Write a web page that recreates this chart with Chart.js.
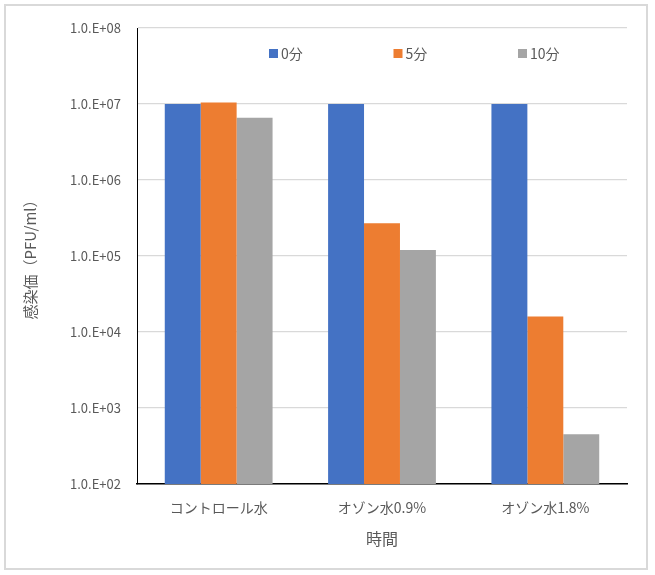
<!DOCTYPE html>
<html>
<head>
<meta charset="utf-8">
<script src="https://cdn.jsdelivr.net/npm/chart.js@4/dist/chart.umd.min.js"></script>
<style>
  html, body { margin: 0; padding: 0; background: #fff; }
  #wrap { position: relative; width: 655px; height: 575px; }
</style>
</head>
<body>
<div id="wrap"><canvas id="myChart" width="655" height="575"></canvas></div>
<script>
// data
var categories = ['コントロール水', 'オゾン水0.9%', 'オゾン水1.8%']
var seriesNames = ['0分', '5分', '10分']
var min0 = [1.0e7, 1.0e7, 1.0e7]
var min5 = [1.05e7, 2.7e5, 1.6e4]
var min10 = [6.6e6, 1.2e5, 450]
var tickValues = [1e2, 1e3, 1e4, 1e5, 1e6, 1e7, 1e8]
var tickLabels = ['1.0.E+02', '1.0.E+03', '1.0.E+04', '1.0.E+05', '1.0.E+06', '1.0.E+07', '1.0.E+08']

var colors = ['#4472C4', '#ED7D31', '#A5A5A5']
var textColor = '#595959'
var jpFont = '"Noto Sans CJK JP", "Noto Sans", sans-serif'

// white background + light grey frame round the whole chart
var framePlugin = {
    id: 'frame',
    beforeDraw: function (chart) {
        var ctx = chart.ctx
        ctx.save()
        ctx.fillStyle = '#fff'
        ctx.fillRect(0, 0, chart.width, chart.height)
        ctx.strokeStyle = '#D9D9D9'
        ctx.lineWidth = 2
        ctx.strokeRect(5, 5, 642, 564)
        ctx.restore()
    }
}

// legend sits inside the plot area like in the Excel chart
var legendPlugin = {
    id: 'insideLegend',
    afterDraw: function (chart) {
        var ctx = chart.ctx
        var x = 269, y = 53, step = 124.5
        ctx.save()
        ctx.font = '14px ' + jpFont
        ctx.textBaseline = 'middle'
        chart.data.datasets.forEach(function (ds, i) {
            var bx = x + i * step
            ctx.fillStyle = ds.backgroundColor
            ctx.fillRect(bx, y - 4, 9, 9)
            ctx.fillStyle = textColor
            ctx.fillText(ds.label, bx + 12, y + 1)
        })
        ctx.restore()
    }
}

var ctx = document.getElementById('myChart').getContext('2d')

var myChart = new Chart(ctx, {
    type: 'bar',
    data: {
        labels: categories,
        datasets: [
            { label: seriesNames[0], data: min0, backgroundColor: colors[0] },
            { label: seriesNames[1], data: min5, backgroundColor: colors[1] },
            { label: seriesNames[2], data: min10, backgroundColor: colors[2] }
        ]
    },
    options: {
        responsive: false,
        animation: false,
        devicePixelRatio: 1,
        categoryPercentage: 0.66,
        barPercentage: 1.0,
        layout: {
            padding: { left: 17, right: 28, top: 28, bottom: 22 }
        },
        plugins: {
            legend: { display: false },
            tooltip: { enabled: false }
        },
        scales: {
            x: {
                grid: { display: false, drawTicks: false },
                border: { color: '#000', width: 1.5 },
                ticks: {
                    color: textColor,
                    font: { family: jpFont, size: 14 },
                    padding: 15,
                    maxRotation: 0
                },
                title: {
                    display: true,
                    text: '時間',
                    color: textColor,
                    font: { family: jpFont, size: 16 },
                    padding: { top: 4, bottom: 4 }
                },
                afterFit: function (scale) { scale.height = 69 }
            },
            y: {
                type: 'logarithmic',
                min: tickValues[0],
                max: tickValues[tickValues.length - 1],
                grid: { color: '#D9D9D9', lineWidth: 1.3, drawTicks: false },
                border: { color: '#000', width: 1 },
                afterBuildTicks: function (scale) {
                    scale.ticks = tickValues.map(function (v) { return { value: v } })
                },
                ticks: {
                    color: textColor,
                    font: { family: jpFont, size: 13 },
                    padding: 16,
                    callback: function (value) {
                        var i = tickValues.indexOf(value)
                        return i >= 0 ? tickLabels[i] : ''
                    }
                },
                title: {
                    display: true,
                    text: '感染価（PFU/ml）',
                    color: textColor,
                    font: { family: jpFont, size: 15 },
                    padding: { top: 4, bottom: 4 }
                },
                afterFit: function (scale) { scale.width = 120 }
            }
        }
    },
    plugins: [framePlugin, legendPlugin]
})
</script>
</body>
</html>
